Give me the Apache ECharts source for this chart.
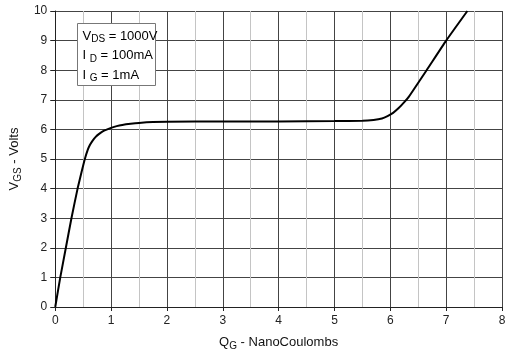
<!DOCTYPE html>
<html>
<head>
<meta charset="utf-8">
<script src="https://cdn.jsdelivr.net/npm/echarts@6/dist/echarts.min.js"></script>
<style>html,body{margin:0;padding:0;background:#fff;}#c{width:510px;height:358px;}</style>
</head>
<body>
<div id="c"></div>
<script>
const qValues   = [0, 0.09, 0.19, 0.29, 0.4, 0.47, 0.53, 0.58, 0.62, 0.67, 0.72, 0.78, 0.85, 0.92, 1.0, 1.1, 1.2, 1.35, 1.5, 1.75, 2.0, 3.0, 4.0, 5.0, 5.5, 5.7, 5.85, 5.95, 6.05, 6.15, 6.25, 6.33, 6.65, 7.0, 7.38];
const vgsValues = [0, 1.0, 2.0, 3.0, 4.0, 4.55, 5.0, 5.3, 5.47, 5.62, 5.74, 5.84, 5.93, 5.99, 6.05, 6.11, 6.15, 6.19, 6.22, 6.25, 6.26, 6.27, 6.27, 6.28, 6.29, 6.32, 6.37, 6.45, 6.56, 6.72, 6.92, 7.1, 8.0, 9.0, 10.0];
const xTicks = [0, 1, 2, 3, 4, 5, 6, 7, 8];
const yTicks = [0, 1, 2, 3, 4, 5, 6, 7, 8, 9, 10];
const noteLines = [
  ['V', 'DS', ' = 1000V'],
  ['I ', 'D', ' = 100mA'],
  ['I ', 'G', ' = 1mA']
];

const FONT = '"Liberation Sans", Arial, sans-serif';
const chart = echarts.init(document.getElementById('c'));
const rich = {
  a: {fontSize: 13, fontFamily: FONT, color: '#111'},
  s: {fontSize: 10, fontFamily: FONT, color: '#111', padding: [7, 0, 0, 0]}
};
const option = {
  backgroundColor: '#fff',
  animation: false,
  grid: {left: 55, right: 8, top: 11, bottom: 51},
  xAxis: {
    type: 'value', min: xTicks[0], max: xTicks[xTicks.length - 1], interval: 1,
    axisLine: {show: true, onZero: false, lineStyle: {color: '#222', width: 1}},
    axisTick: {show: true, length: 4, lineStyle: {color: '#222'}},
    axisLabel: {color: '#222', fontSize: 12, fontFamily: FONT, margin: 8},
    splitLine: {show: true, lineStyle: {color: '#444', width: 1}},
    minorTick: {show: false, splitNumber: 2},
    minorSplitLine: {show: true, lineStyle: {color: '#c4c4c4', width: 1}},
    name: '{a|Q}{s|G}{a| - NanoCoulombs}',
    nameLocation: 'middle', nameGap: 27,
    nameTextStyle: {rich: rich}
  },
  yAxis: {
    type: 'value', min: yTicks[0], max: yTicks[yTicks.length - 1], interval: 1,
    axisLine: {show: true, lineStyle: {color: '#222', width: 1}},
    axisTick: {show: true, length: 5, lineStyle: {color: '#222'}},
    axisLabel: {color: '#222', fontSize: 12, fontFamily: FONT, margin: 8},
    splitLine: {show: true, lineStyle: {color: '#444', width: 1}},
    name: '{a|V}{s|GS}{a| - Volts}',
    nameLocation: 'middle', nameGap: 27,
    nameTextStyle: {rich: rich}
  },
  series: [{
    type: 'line',
    data: qValues.map((q, i) => [q, vgsValues[i]]),
    showSymbol: false,
    smooth: 0.15,
    lineStyle: {color: '#000', width: 2},
    clip: true
  }],
  graphic: [{
    type: 'group', left: 77, top: 23, z: 100,
    children: [
      {type: 'rect', z: 100, shape: {x: 0, y: 0, width: 78, height: 62},
       style: {fill: '#fff', stroke: '#777', lineWidth: 1}},
    ].concat(noteLines.map((l, i) => ({
      type: 'text', z: 101, x: 5, y: 4 + i * 19.5,
      style: {text: '{a|' + l[0] + '}{s|' + l[1] + '}{a|' + l[2] + '}', rich: rich}
    })))
  }]
};
chart.setOption(option);
</script>
</body>
</html>
